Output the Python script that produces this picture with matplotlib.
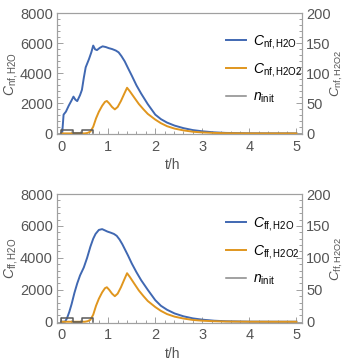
import numpy as np
import matplotlib
matplotlib.use("Agg")
import matplotlib.pyplot as plt
from matplotlib.ticker import MultipleLocator

plt.rcParams['font.family'] = ['Liberation Sans', 'DejaVu Sans']
plt.rcParams['mathtext.fontset'] = 'custom'
plt.rcParams['mathtext.rm'] = 'Liberation Sans'
plt.rcParams['mathtext.it'] = 'Liberation Sans:italic'

# top panel: nf curves
t_nf_h2o = [0.0, 0.02, 0.05, 0.1, 0.16, 0.22, 0.26, 0.3, 0.34, 0.4, 0.44, 0.48, 0.52, 0.59,
            0.64, 0.68, 0.72, 0.76, 0.82, 0.88, 0.95, 1.01, 1.08, 1.16, 1.22, 1.28, 1.35,
            1.42, 1.5, 1.6, 1.7, 1.84, 2.0, 2.12, 2.25, 2.41, 2.6, 2.8, 3.0, 3.25, 3.5,
            4.0, 4.5, 5.0]
c_nf_h2o = [0, 0, 1250, 1450, 1850, 2200, 2450, 2250, 2150, 2550, 2900, 3700, 4400, 4950,
            5400, 5850, 5600, 5550, 5700, 5800, 5750, 5680, 5620, 5520, 5400, 5150, 4800,
            4350, 3850, 3200, 2650, 1950, 1250, 950, 720, 520, 350, 220, 140, 70, 32,
            7, 2, 0]

t_h2o2 = [0.0, 0.5, 0.56, 0.62, 0.68, 0.74, 0.8, 0.87, 0.93, 0.97, 1.02, 1.08, 1.14, 1.2,
          1.27, 1.34, 1.4, 1.46, 1.55, 1.65, 1.75, 1.84, 2.0, 2.12, 2.25, 2.41, 2.6, 2.8,
          3.0, 3.25, 3.5, 4.0, 4.5, 5.0]
c_nf_h2o2 = [0, 0, 0.8, 3, 11, 25, 36, 46, 52.5, 54, 50, 44, 40, 44,
             54, 66, 76, 70, 60, 49, 40, 32.5, 23, 17, 12, 8, 5, 2.8,
             1.6, 0.8, 0.35, 0.08, 0.02, 0]

# bottom panel: ff curves
t_ff_h2o = [0.0, 0.08, 0.12, 0.17, 0.22, 0.28, 0.34, 0.4, 0.48, 0.55, 0.62, 0.68, 0.73, 0.8,
            0.87, 0.93, 0.98, 1.05, 1.12, 1.18, 1.24, 1.3, 1.36, 1.42, 1.5, 1.6, 1.7, 1.84,
            2.0, 2.12, 2.25, 2.41, 2.6, 2.8, 3.0, 3.25, 3.5, 4.0, 4.5, 5.0]
c_ff_h2o = [0, 0, 200, 600, 1100, 1800, 2400, 2900, 3400, 4000, 4700, 5200, 5500, 5750,
            5800, 5720, 5650, 5580, 5500, 5380, 5150, 4850, 4500, 4150, 3650, 3100, 2600,
            2000, 1350, 1000, 750, 520, 340, 210, 130, 65, 30, 6, 2, 0]
c_ff_h2o2 = [0, 0, 0.8, 3, 11, 25, 36, 46, 52.5, 54, 50, 44, 40, 44,
             54, 66, 76, 70, 60, 49, 40, 32.5, 23, 17, 12, 8, 5, 2.8,
             1.6, 0.8, 0.35, 0.08, 0.02, 0]

# initiation pulses (right axis units)
t_init = [0.0, 0.0, 0.25, 0.25, 0.44, 0.44, 0.67, 0.67]
n_init = [0, 6, 6, 0, 0, 6, 6, 0]

blue = '#4068b2'
orange = '#e0961e'
gray_line = '#5a5a5a'
spine_c = '#a0a0a0'
text_c = '#555555'

fig = plt.figure(figsize=(3.48, 3.62), dpi=100)
W, H = 348, 362


def panel(top_px, bot_px, c_h2o, t_h2o, c_h2o2, sub):
    h = bot_px - top_px
    ax = fig.add_axes([57 / W, (H - bot_px) / H, 245 / W, h / H])
    ax2 = ax.twinx()
    l1, = ax.plot(t_h2o, c_h2o, color=blue, lw=1.4, label=r'$C_{\mathrm{%s,H2O}}$' % sub)
    l2, = ax2.plot(t_h2o2, c_h2o2, color=orange, lw=1.4, label=r'$C_{\mathrm{%s,H2O2}}$' % sub)
    l3, = ax2.plot(t_init, n_init, color=gray_line, lw=1.1, label=r'$n_{\mathrm{init}}$')
    ax.set_xlim(-0.09, 5.12)
    ax.set_ylim(-60, 8000)
    ax2.set_ylim(-1.5, 200)
    ax.set_xticks([0, 1, 2, 3, 4, 5])
    ax.xaxis.set_minor_locator(MultipleLocator(0.2))
    ax.set_yticks([0, 2000, 4000, 6000, 8000])
    ax.yaxis.set_minor_locator(MultipleLocator(400))
    ax2.set_yticks([0, 50, 100, 150, 200])
    ax2.yaxis.set_minor_locator(MultipleLocator(10))
    for a in (ax, ax2):
        for s in a.spines.values():
            s.set_color(spine_c)
            s.set_linewidth(0.8)
        a.tick_params(which='both', direction='in', color=spine_c, labelcolor=text_c,
                      labelsize=10.5, width=0.7)
        a.tick_params(which='major', length=4, pad=3)
        a.tick_params(which='minor', length=2)
    ax.tick_params(axis='x', pad=4)
    ax.set_xlabel('t/h', color=text_c, fontsize=10)
    ax.xaxis.set_label_coords(0.47, -24 / h)
    ax.set_ylabel(r'$C_{\mathrm{%s,H2O}}$' % sub, color=text_c, fontsize=10)
    ax.yaxis.set_label_coords(-0.15, 0.5)
    ax2.set_ylabel(r'$C_{\mathrm{%s,H2O2}}$' % sub, color=text_c, fontsize=9.5)
    ax2.yaxis.set_label_coords(1.108, 0.5)
    leg = ax2.legend(handles=[l1, l2, l3], loc='upper left', bbox_to_anchor=(0.69, 0.84),
                     frameon=False, handlelength=1.45, handletextpad=0.5,
                     labelspacing=0.75, borderpad=0, borderaxespad=0, fontsize=10)
    for txt in leg.get_texts():
        txt.set_color('black')
    leg.get_lines()[2].set_color('#888888')
    return ax


panel(13.3, 134.3, c_nf_h2o, t_nf_h2o, c_nf_h2o2, 'nf')
panel(194, 322.7, c_ff_h2o, t_ff_h2o, c_ff_h2o2, 'ff')

fig.savefig('out.png', dpi=100)
